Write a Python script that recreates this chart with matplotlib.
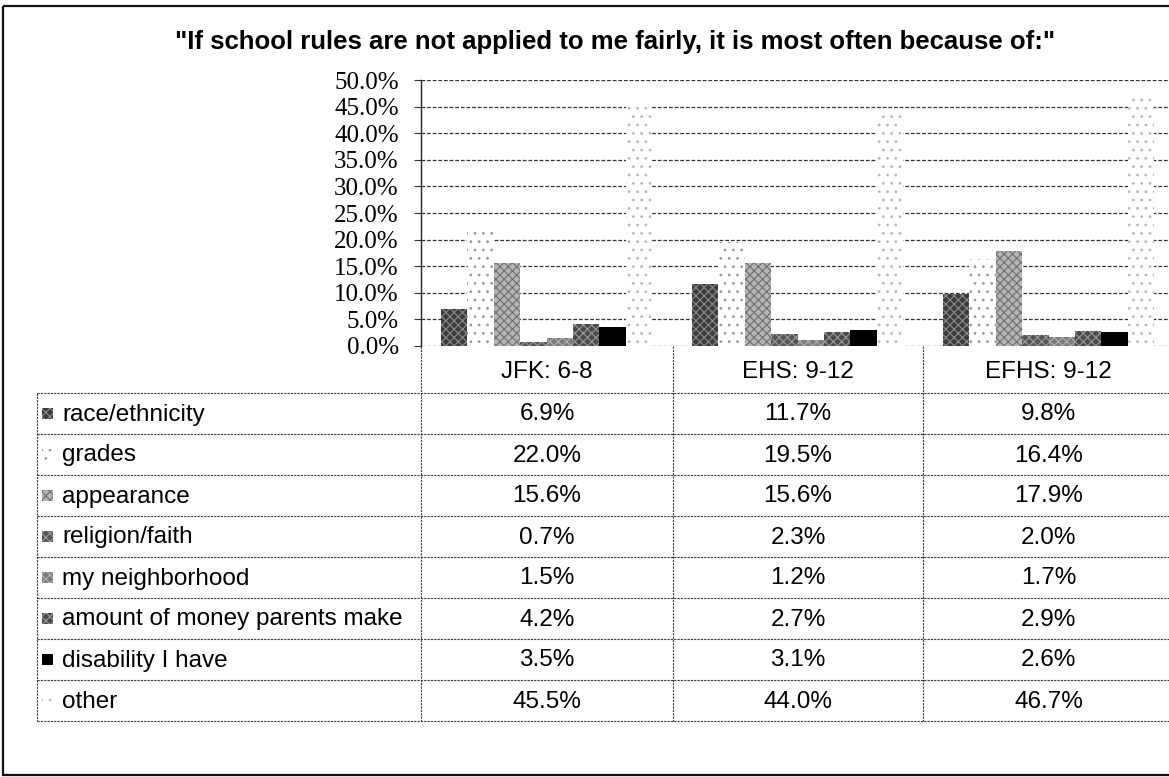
import matplotlib
matplotlib.use('Agg')
import matplotlib.pyplot as plt
from matplotlib.patches import Rectangle
import numpy as np

W, H = 1169, 777

title = '"If school rules are not applied to me fairly, it is most often because of:"'
schools = ['JFK: 6-8', 'EHS: 9-12', 'EFHS: 9-12']
reasons = ['race/ethnicity', 'grades', 'appearance', 'religion/faith',
           'my neighborhood', 'amount of money parents make',
           'disability I have', 'other']

race = [6.9, 11.7, 9.8]
grades = [22.0, 19.5, 16.4]
appearance = [15.6, 15.6, 17.9]
religion = [0.7, 2.3, 2.0]
neighborhood = [1.5, 1.2, 1.7]
money = [4.2, 2.7, 2.9]
disability = [3.5, 3.1, 2.6]
other = [45.5, 44.0, 46.7]
values = [race, grades, appearance, religion, neighborhood, money, disability, other]

y_ticks = np.arange(0, 51, 5)

# grey pattern fills (face, hatch, hatch colour), like the scanned print
styles = [
    ('#3c3c3c', 'xxxx', '#8c8c8c'),
    ('white', '..', '#9a9a9a'),
    ('#b4b4b4', 'xxxx', '#6e6e6e'),
    ('#555555', 'xxxx', '#9c9c9c'),
    ('#7c7c7c', 'xxxx', '#b0b0b0'),
    ('#4a4a4a', 'xxxx', '#9a9a9a'),
    ('black', None, 'black'),
    ('white', '..', '#b8b8b8'),
]

plt.rcParams['hatch.linewidth'] = 0.8

fig = plt.figure(figsize=(W / 100, H / 100), dpi=100)
fig.patch.set_facecolor('white')

# layout in pixels
ax_left, ax_right = 421, 1174
ax_top, ax_bot = 80, 346
col_edges = [421, 673, 923, 1174]
tbl_left = 37
head_bot = 393
row_h = (721 - head_bot) / len(reasons)

ax = fig.add_axes([ax_left / W, (H - ax_bot) / H,
                   (ax_right - ax_left) / W, (ax_bot - ax_top) / H])

n = len(reasons)
bw = 1 / (n + 1.5)
x = np.arange(len(schools))
for i, (vals, (fc, hatch, hc)) in enumerate(zip(values, styles)):
    ax.bar(x + (i - (n - 1) / 2) * bw, vals, bw, color=fc, hatch=hatch,
           edgecolor=hc, linewidth=0, zorder=3)

ax.set_xlim(-0.5, len(schools) - 0.5)
ax.set_ylim(0, 50)
ax.set_yticks(y_ticks)
ax.set_yticklabels([f'{v:.1f}%' for v in y_ticks],
                   family='Liberation Serif', fontsize=18)
ax.set_xticks([])
ax.tick_params(axis='y', length=5, width=0.8, pad=11, color='#333')
ax.yaxis.grid(True, color='#333', linestyle=(0, (3, 1.5)), linewidth=0.9)
ax.set_axisbelow(True)
for s in ['top', 'right', 'bottom']:
    ax.spines[s].set_visible(False)
ax.spines['left'].set_color('#222')
ax.spines['left'].set_linewidth(1.0)

# overlay in pixel coords for title, table and border
ov = fig.add_axes([0, 0, 1, 1], facecolor='none')
ov.set_xlim(0, W)
ov.set_ylim(H, 0)
ov.axis('off')

ov.text(615, 42, title, ha='center', va='center', fontsize=18.5,
        fontweight='bold', family='Liberation Sans')

lc, lw, ls = '#3a3a3a', 0.8, (0, (2, 1))
for xe in col_edges:
    ov.plot([xe, xe], [ax_bot, 721], color=lc, lw=lw, ls=ls)
ov.plot([tbl_left, tbl_left], [head_bot, 721], color=lc, lw=lw, ls=ls)
for r in range(n + 1):
    yy = head_bot + r * row_h
    ov.plot([tbl_left, col_edges[-1]], [yy, yy], color=lc, lw=lw, ls=ls)

for j, s in enumerate(schools):
    cx = (col_edges[j] + col_edges[j + 1]) / 2
    ov.text(cx, (ax_bot + head_bot) / 2 + 2, s, ha='center', va='center',
            fontsize=17.5, family='Liberation Sans')

for i, (lab, vals, (fc, hatch, hc)) in enumerate(zip(reasons, values, styles)):
    cy = head_bot + (i + 0.5) * row_h
    ov.add_patch(Rectangle((42, cy - 6), 11, 11, facecolor=fc, hatch=hatch,
                           edgecolor=hc, linewidth=0))
    ov.text(62, cy + 1, lab, ha='left', va='center', fontsize=17.5,
            family='Liberation Sans')
    for j, v in enumerate(vals):
        cx = (col_edges[j] + col_edges[j + 1]) / 2
        ov.text(cx, cy + 1, f'{v:.1f}%', ha='center', va='center',
                fontsize=17.5, family='Liberation Sans')

# outer chart border
ov.add_patch(Rectangle((3, 6), 1172, 769, fill=False, edgecolor='#111',
                       linewidth=1.6))

fig.savefig('out.png', dpi=100)
